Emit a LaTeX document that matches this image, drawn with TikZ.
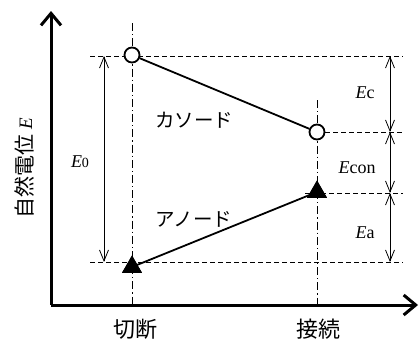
\documentclass[tikz,border=0pt]{standalone}
\usepackage{fontspec}
\setmainfont{Liberation Serif}
\newfontfamily\jp{Noto Sans CJK JP}
\usetikzlibrary{arrows.meta,shapes.geometric}
\begin{document}
\begin{tikzpicture}[x=1pt,y=-1pt,
  axis/.style={line width=3pt,-{Straight Barb[length=12pt,width=20pt,line width=3pt]}},
  dimline/.style={line width=0.8pt,{Straight Barb[length=11pt,width=9pt,line width=0.8pt]}-{Straight Barb[length=11pt,width=9pt,line width=0.8pt]}},
  guide/.style={line width=0.8pt,dash pattern=on 5pt off 3pt},
  centre/.style={line width=0.8pt,dash pattern=on 8pt off 3pt on 1.2pt off 3pt},
  curve/.style={line width=1.8pt},
  opendot/.style={circle,draw,fill=white,line width=1.8pt,minimum size=15pt,inner sep=0pt},
  tri/.style={regular polygon,regular polygon sides=3,fill=black,minimum size=23pt,inner sep=0pt},
  jplabel/.style={font=\jp\fontsize{19.5}{19.5}\selectfont,inner sep=0pt},
  elabel/.style={font=\fontsize{18}{18}\selectfont,inner sep=0pt}]
\useasboundingbox (0,0) rectangle (419,340);
% reference coordinates
\coordinate (o) at (51,305);
\coordinate (ytop) at (51,11);
\coordinate (xend) at (418,305);
% guides
\coordinate (g1a) at (90,56); \coordinate (g1b) at (403,56);
\coordinate (g2b) at (403,132);
\coordinate (g3a) at (305,193); \coordinate (g3b) at (403,193);
\coordinate (g4a) at (90,262); \coordinate (g4b) at (403,262);
\coordinate (v1a) at (132,23); \coordinate (v1b) at (132,305);
\coordinate (v2a) at (317,100); \coordinate (v2b) at (317,305);
\draw[guide] (g1a) -- (g1b);
\draw[guide] (317,132) -- (g2b);
\draw[guide] (g3a) -- (g3b);
\draw[guide] (g4a) -- (g4b);
\draw[centre] (v1a) -- (v1b);
\draw[centre] (v2a) -- (v2b);
% dimension lines
\coordinate (d0a) at (104,56); \coordinate (d0b) at (104,262);
\coordinate (dca) at (390,56); \coordinate (dcb) at (390,132);
\coordinate (dna) at (390,132); \coordinate (dnb) at (390,193);
\coordinate (daa) at (390,193); \coordinate (dab) at (390,262);
\draw[dimline] (d0a) -- (d0b);
\draw[dimline] (dca) -- (dcb);
\draw[dimline] (dna) -- (dnb);
\draw[dimline] (daa) -- (dab);
% axes
\draw[axis] (o) -- (ytop);
\draw[axis] (o) -- (xend);
% data
\node[opendot] (c1) at (132,55) {};
\node[opendot] (c2) at (317,132) {};
\draw[curve] (c1) -- (c2);
\node[tri] (t1) at (132,267) {};
\node[tri] (t2) at (317,192) {};
\draw[curve,shorten <=4pt,shorten >=4pt] (t1.center) -- (t2.center);
\node[tri] at (t1) {};
\node[tri] at (t2) {};
% labels
\node[jplabel] (lc) at (194,120) {カソード};
\node[jplabel] (la) at (194,219) {アノード};
\node[jplabel,font=\jp\fontsize{22}{22}\selectfont] (l1) at (135,329) {切断};
\node[jplabel,font=\jp\fontsize{22}{22}\selectfont] (l2) at (318,329) {接続};
\node[jplabel,rotate=90,font=\jp\fontsize{21}{21}\selectfont] (ly) at (24,168) {自然電位 {\rmfamily\itshape\fontsize{19}{19}\selectfont E}};
\node[elabel] (e0) at (80,162) {\textit{E}{\fontsize{14}{14}\selectfont 0}};
\node[elabel] (ec) at (365,93) {\textit{E}c};
\node[elabel] (en) at (357,168) {\textit{E}con};
\node[elabel] (ea) at (365,233) {\textit{E}a};
\end{tikzpicture}
\end{document}
